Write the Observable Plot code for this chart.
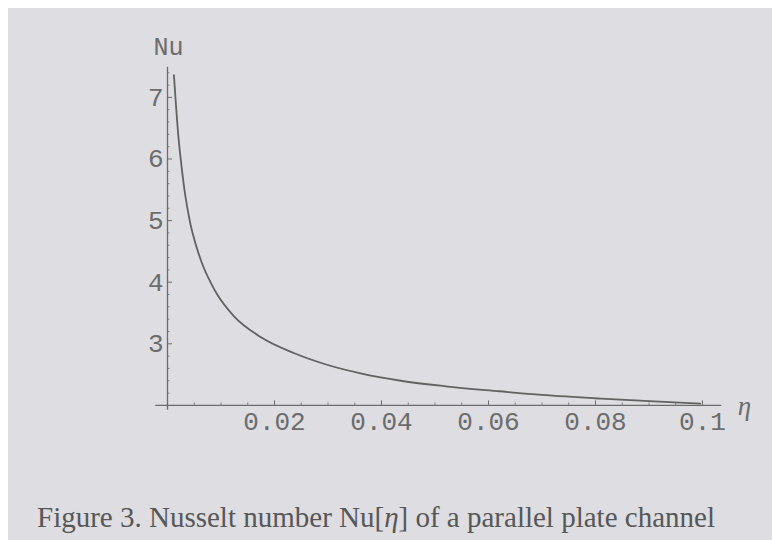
<!DOCTYPE html>
<html>
<head>
<meta charset="utf-8">
<script src="https://cdn.jsdelivr.net/npm/d3@7"></script>
<script src="https://cdn.jsdelivr.net/npm/@observablehq/plot@0.6"></script>
<style>
  html, body { margin: 0; padding: 0; background: #ffffff; }
  #page { position: absolute; left: 8px; top: 8px; width: 764px; height: 532px; background: rgb(221,221,226); overflow: hidden; }
  #chart { position: absolute; left: 0; top: 0; }
  #caption { position: absolute; left: 29px; top: 495px; font-family: "Liberation Serif", serif; font-size: 29px; line-height: 29px; color: #575757; white-space: nowrap; }
</style>
</head>
<body>
<div id="page">
  <div id="chart"></div>
  <div id="caption">Figure 3. Nusselt number Nu[<i>η</i>] of a parallel plate channel</div>
</div>
<script>
// Data
const eta = [0.0012, 0.0015, 0.002, 0.0026, 0.0033, 0.0042, 0.0055, 0.0068, 0.0081, 0.0093, 0.0124, 0.0174, 0.0236, 0.0298, 0.0361, 0.0436, 0.052, 0.062, 0.07, 0.081, 0.09, 0.0996];
const nu  = [7.36,   6.98,   6.4,   5.9,    5.42,   4.98,   4.55,   4.23,   3.99,   3.8,    3.45,   3.11,   2.85,   2.66,   2.52,   2.40,   2.31,  2.23,  2.17, 2.11,  2.07, 2.03];

const xTicks = [0.02, 0.04, 0.06, 0.08, 0.1];
const xTickLabels = ["0.02", "0.04", "0.06", "0.08", "0.1"];
const yTicks = [3, 4, 5, 6, 7];
const yTickLabels = ["3", "4", "5", "6", "7"];
const yAxisTitle = "Nu";
const xAxisTitle = "η";

const points = eta.map((e, i) => ({eta: e, nu: nu[i]}));
const xMinor = d3.range(1, 21).map(i => i * 0.005).filter(v => !xTicks.some(t => Math.abs(t - v) < 1e-9));
const yMinor = d3.range(11, 38).map(i => i * 0.2).filter(v => !yTicks.some(t => Math.abs(t - v) < 1e-9));
const xLab = xTicks.map((t, i) => ({t, label: xTickLabels[i]}));
const yLab = yTicks.map((t, i) => ({t, label: yTickLabels[i]}));

const ink = "#6c6c6c";
const pxY = 61.6;      // pixels per Nu unit
const pxX = 5350;      // pixels per eta unit

const chart = Plot.plot({
  width: 764,
  height: 470,
  marginLeft: 159,
  marginRight: 70,
  marginTop: 58.1,
  marginBottom: 73.1,
  x: {domain: [0, 0.1], axis: null},
  y: {domain: [2, 7.5], axis: null},
  style: {background: "transparent", fontFamily: "'Liberation Mono', monospace", color: ink, overflow: "visible"},
  marks: [
    // axes
    Plot.ruleY([2], {x1: -0.0022, x2: 0.1036, stroke: ink, strokeWidth: 1.3}),
    Plot.ruleX([0], {y1: 1.92, y2: 7.49, stroke: ink, strokeWidth: 1.3}),
    // x ticks (inward)
    Plot.ruleX(xTicks, {x: d => d, y1: 2, y2: 2 + 4.5 / pxY, stroke: ink, strokeWidth: 1}),
    Plot.ruleX(xMinor, {x: d => d, y1: 2, y2: 2 + 2.5 / pxY, stroke: ink, strokeWidth: 0.8}),
    // y ticks (inward)
    Plot.ruleY(yTicks, {y: d => d, x1: 0, x2: 5 / pxX, stroke: ink, strokeWidth: 1}),
    Plot.ruleY(yMinor, {y: d => d, x1: 0, x2: 2.5 / pxX, stroke: ink, strokeWidth: 0.8}),
    // curve
    Plot.line(points, {x: "eta", y: "nu", stroke: "#626262", strokeWidth: 1.8, curve: "monotone-x"}),
    // tick labels
    Plot.text(xLab, {x: "t", y: () => 2, text: "label", lineAnchor: "top", dy: 6, fontSize: 26, fill: ink}),
    Plot.text(yLab, {x: () => 0, y: "t", text: "label", textAnchor: "end", dx: -4, fontSize: 26, fill: ink}),
    // axis titles
    Plot.text([yAxisTitle], {x: () => 0, y: () => 7.5, text: d => d, lineAnchor: "bottom", dy: -12, dx: 1, fontSize: 25, fill: ink}),
    Plot.text([xAxisTitle], {x: () => 0.1036, y: () => 2, text: d => d, textAnchor: "start", dx: 16, dy: 1, fontSize: 27, fontStyle: "italic", fontFamily: "'Liberation Serif', serif", fill: ink})
  ]
});
document.getElementById("chart").appendChild(chart);
</script>
</body>
</html>
